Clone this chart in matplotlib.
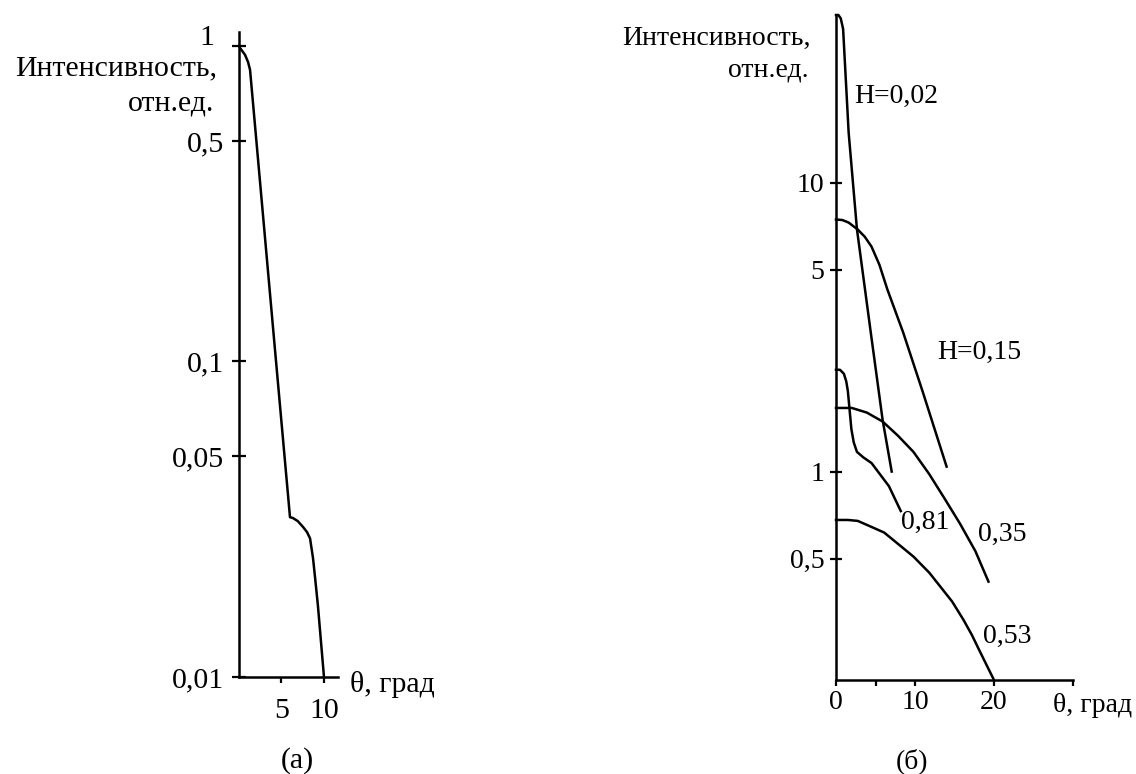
import matplotlib
matplotlib.use("Agg")
import matplotlib.pyplot as plt

plt.rcParams['font.family'] = ['Liberation Serif', 'DejaVu Serif']
FS_A = 21.5
FS_B = 20

# (а) intensity vs angle
theta_a = [0, 0.12, 0.71, 1.06, 1.30, 2.32, 4.06, 6.0, 6.35, 6.91, 7.53, 8.0, 8.36, 8.71, 8.94, 9.29, 10.0]
int_a = [1.0, 0.985, 0.937, 0.89, 0.84, 0.413, 0.123, 0.0321, 0.0319, 0.0312, 0.0299, 0.0288, 0.0275,
         0.0238, 0.0208, 0.0168, 0.01]
yticks_a = [0.01, 0.05, 0.1, 0.5, 1]
ylabels_a = ['0,01', '0,05', '0,1', '0,5', '']
xticks_a = [5, 10]
xlabels_a = ['5', '10']

# (б) curves for different H
theta_002 = [0, 0.3, 0.6, 0.9, 1.6, 2.65, 4.4, 5.9, 7.05]
int_002 = [38, 38, 37, 34, 14.9, 6.9, 3.03, 1.51, 1.0]
theta_015 = [0, 0.8, 1.6, 2.75, 3.65, 4.5, 5.5, 6.5, 8.5, 11.0, 14.0]
int_015 = [7.45, 7.42, 7.27, 6.88, 6.49, 6.0, 5.19, 4.27, 3.03, 1.88, 1.04]
theta_035 = [0, 2.0, 3.9, 5.9, 7.85, 9.8, 11.8, 13.7, 15.7, 17.65, 19.3]
int_035 = [1.66, 1.66, 1.60, 1.49, 1.33, 1.17, 0.98, 0.81, 0.66, 0.53, 0.416]
theta_081 = [0, 0.5, 1.0, 1.3, 1.5, 1.95, 2.25, 2.65, 3.45, 4.5, 6.7, 8.2]
int_081 = [2.25, 2.25, 2.18, 2.05, 1.9, 1.4, 1.26, 1.17, 1.12, 1.07, 0.89, 0.73]
theta_053 = [0, 1.5, 2.75, 4.4, 6.1, 7.85, 9.8, 11.8, 13.2, 14.7, 16.1, 17.2, 18.1, 19.1, 20.0]
int_053 = [0.68, 0.68, 0.675, 0.645, 0.615, 0.562, 0.508, 0.447, 0.40, 0.355, 0.308, 0.272, 0.242, 0.213, 0.19]
curves_b = [(theta_002, int_002), (theta_015, int_015), (theta_035, int_035),
            (theta_081, int_081), (theta_053, int_053)]
yticks_b = [0.5, 1, 5, 10]
ylabels_b = ['0,5', '1', '5', '10']
xticks_b = [0, 5, 10, 20, 30]
xlabels_b = ['0', '', '10', '20', '']

W, H = 1136, 774


def fx(x):
    return x / W


def fy(y):
    return 1 - y / H


fig = plt.figure(figsize=(W / 100, H / 100), dpi=100)

# ---- panel (а)
ax1 = fig.add_axes([fx(239), fy(677), 99 / W, 645 / H])
ax1.plot(theta_a, int_a, color='black', lw=1.8, clip_on=False)
ax1.set_yscale('log')
ax1.set_xlim(0, 11.65)
ax1.set_ylim(0.01, 1.107)
ax1.set_yticks(yticks_a)
ax1.set_yticklabels(ylabels_a)
ax1.minorticks_off()
ax1.set_xticks(xticks_a)
ax1.set_xticklabels(xlabels_a)
ax1.tick_params(axis='y', direction='inout', length=10, width=1.6, pad=6, labelsize=FS_A)
ax1.tick_params(axis='x', direction='out', length=4, width=1.6, pad=11, labelsize=FS_A)
ax1.annotate('1', xy=(0, 1), xycoords=('axes fraction', 'data'), xytext=(-18, 1),
             textcoords='offset points', ha='right', va='baseline', fontsize=FS_A)

# ---- panel (б)
ax2 = fig.add_axes([fx(836), fy(680), 237 / W, 665 / H])
for th, iv in curves_b:
    ax2.plot(th, iv, color='black', lw=1.8, clip_on=False)
ax2.set_yscale('log')
ax2.set_xlim(0, 30)
ax2.set_ylim(0.19, 38)
ax2.set_yticks(yticks_b)
ax2.set_yticklabels(ylabels_b)
ax2.minorticks_off()
ax2.set_xticks(xticks_b)
ax2.set_xticklabels(xlabels_b)
ax2.tick_params(axis='y', direction='inout', length=9, width=1.6, pad=4, labelsize=FS_B)
ax2.tick_params(axis='x', direction='out', length=4, width=1.6, pad=3, labelsize=FS_B)

ax2.text(2.3, 19.8, 'H=0,02', ha='left', va='center', fontsize=FS_B)
ax2.text(12.8, 2.58, 'H=0,15', ha='left', va='center', fontsize=FS_B)
ax2.text(8.2, 0.667, '0,81', ha='left', va='center', fontsize=FS_B)
ax2.text(18.0, 0.605, '0,35', ha='left', va='center', fontsize=FS_B)
ax2.text(18.6, 0.269, '0,53', ha='left', va='center', fontsize=FS_B)

for ax in (ax1, ax2):
    ax.spines['top'].set_visible(False)
    ax.spines['right'].set_visible(False)
    ax.spines['left'].set_linewidth(1.8)
    ax.spines['bottom'].set_linewidth(1.8)
    ax.patch.set_alpha(0)

# axis titles
fig.text(fx(217), fy(75), 'Интенсивность,', ha='right', va='baseline', fontsize=FS_A)
fig.text(fx(214), fy(111), 'отн.ед.', ha='right', va='baseline', fontsize=FS_A)
fig.text(fx(350), fy(692), 'θ, град', ha='left', va='baseline', fontsize=FS_A)

fig.text(fx(811), fy(45), 'Интенсивность,', ha='right', va='baseline', fontsize=FS_B)
fig.text(fx(809), fy(77), 'отн.ед.', ha='right', va='baseline', fontsize=FS_B)
fig.text(fx(1132), fy(712), 'θ, град', ha='right', va='baseline', fontsize=FS_B)

# captions
fig.text(fx(297), fy(761), '(а)', ha='center', va='center', fontsize=FS_A)
fig.text(fx(912), fy(761), '(б)', ha='center', va='center', fontsize=FS_B)

fig.savefig('out.png', dpi=100)
